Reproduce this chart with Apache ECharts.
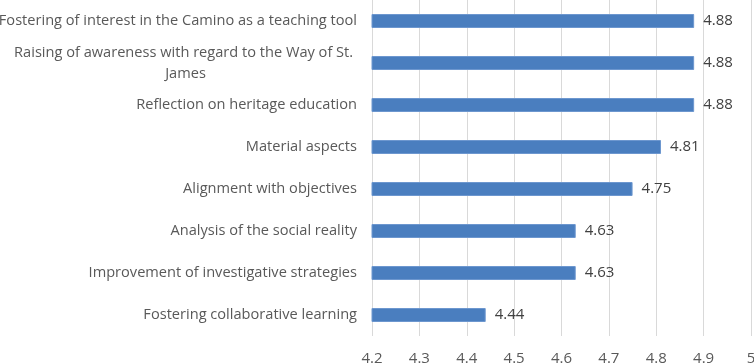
<!DOCTYPE html>
<html><head><meta charset="utf-8">
<script src="https://cdn.jsdelivr.net/npm/echarts@6/dist/echarts.min.js"></script>
<style>html,body{margin:0;padding:0;background:#fff}#c{width:754px;height:363px}</style>
</head><body><div id="c"></div>
<script>
const categories = [
  "Fostering of interest in the Camino as a teaching tool",
  "Raising of awareness with regard to the Way of St. \nJames",
  "Reflection on heritage education",
  "Material aspects",
  "Alignment with objectives",
  "Analysis of the social reality",
  "Improvement of investigative strategies",
  "Fostering collaborative learning"
];
const values = [4.88, 4.88, 4.88, 4.81, 4.75, 4.63, 4.63, 4.44];
const xTicks = [4.2, 4.3, 4.4, 4.5, 4.6, 4.7, 4.8, 4.9, 5];

const FONT = "Open Sans";
const FS = 14.6;
const ctx = document.createElement('canvas').getContext('2d');
ctx.font = FS + "px '" + FONT + "'";
let maxW = 0;
categories.forEach(c => { if (c.indexOf('\n') >= 0) c.split('\n').forEach(l => { maxW = Math.max(maxW, ctx.measureText(l).width); }); });
const rich = {c: {width: Math.ceil(maxW), align: 'center', color: '#595959', fontFamily: FONT, fontSize: FS, lineHeight: 21}};

const chart = echarts.init(document.getElementById('c'), null, {renderer: 'canvas'});
chart.setOption({
  animation: false,
  grid: {left: 372, right: 3, top: 0, bottom: 27, containLabel: false, outerBoundsMode: 'none'},
  xAxis: {
    type: 'value', min: 4.2, max: 5, interval: 0.1,
    axisLine: {show: false}, axisTick: {show: false},
    splitLine: {show: true, lineStyle: {color: '#d9d9d9', width: 1}},
    axisLabel: {
      color: '#595959', fontFamily: FONT, fontSize: 15, margin: 15, hideOverlap: false,
      formatter: v => { const t = xTicks.find(x => Math.abs(x - v) < 1e-6); return t === undefined ? '' : String(t); }
    }
  },
  yAxis: {
    type: 'category', data: categories, inverse: true,
    axisLine: {show: false}, axisTick: {show: false},
    axisLabel: {
      color: '#595959', fontFamily: FONT, fontSize: FS, margin: 15, lineHeight: 21,
      formatter: function (v) {
        if (v.indexOf('\n') < 0) return v;
        return v.split('\n').map(l => '{c|' + l + '}').join('\n');
      },
      rich: rich
    }
  },
  series: [{
    type: 'bar', data: values, barWidth: 14,
    itemStyle: {color: '#4a7ebf', borderColor: '#6d97cf', borderWidth: 1},
    label: {show: true, position: 'right', distance: 9, color: '#404040', fontFamily: FONT, fontSize: 15}
  }]
});
</script>
</body></html>
